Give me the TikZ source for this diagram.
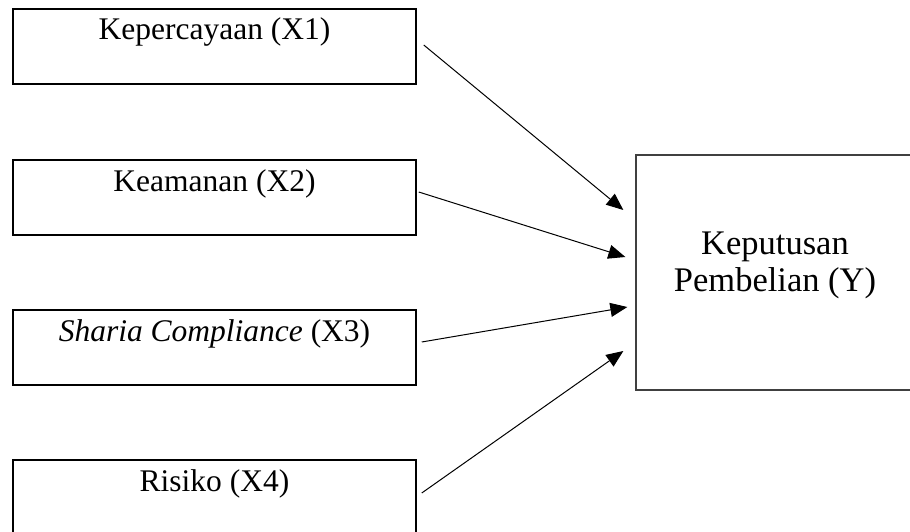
\documentclass[tikz,border=0pt]{standalone}
\usepackage{fontspec}
\setmainfont{Liberation Serif}
\usetikzlibrary{arrows.meta,positioning}
\newcommand{\boxwidth}{403pt}
\newcommand{\boxheight}{75pt}
\newcommand{\labelsize}{\fontsize{31.5}{35}\selectfont}
\newcommand{\outcomesize}{\fontsize{34.5}{37}\selectfont}
\tikzstyle{factor}=[draw, rectangle, line width=1.5pt, minimum width=\boxwidth, minimum height=\boxheight, inner sep=0, text height=31pt, text depth=44pt, font=\labelsize]
\tikzstyle{outcome}=[draw=black!75, rectangle, line width=1.3pt, minimum width=278pt, minimum height=235pt, inner sep=0]
\tikzstyle{outcometext}=[align=center, font=\outcomesize, inner sep=0, yshift=7pt]
\tikzstyle{arrow}=[-{Triangle[length=17pt,width=14pt]}, line width=1pt]

\begin{document}
\begin{tikzpicture}[x=1pt, y=-1pt]
  \useasboundingbox (0,0) rectangle (910,532);

  \node[factor] (X1) at (214.5, 46.5) {Kepercayaan (X1)};
  \node[factor] (X2) at (214.5, 197.5) {Keamanan (X2)};
  \node[factor] (X3) at (214.5, 347.5) {\textit{Sharia Compliance} (X3)};
  \node[factor] (X4) at (214.5, 497.5) {Risiko (X4)};

  \node[outcome, label={[outcometext]center:Keputusan\\Pembelian (Y)}] (Y) at (775, 272.5) {};

  \draw[arrow] ([xshift=7pt, yshift=1.5pt]X1.east) -- ([xshift=-12pt, yshift=62.5pt]Y.west);
  \draw[arrow] ([xshift=2pt, yshift=5.5pt]X2.east) -- ([xshift=-10pt, yshift=15.5pt]Y.west);
  \draw[arrow] ([xshift=5pt, yshift=5.5pt]X3.east) -- ([xshift=-8pt, yshift=-34.5pt]Y.west);
  \draw[arrow] ([xshift=5pt, yshift=4.5pt]X4.east) -- ([xshift=-12pt, yshift=-78.5pt]Y.west);

\end{tikzpicture}
\end{document}
